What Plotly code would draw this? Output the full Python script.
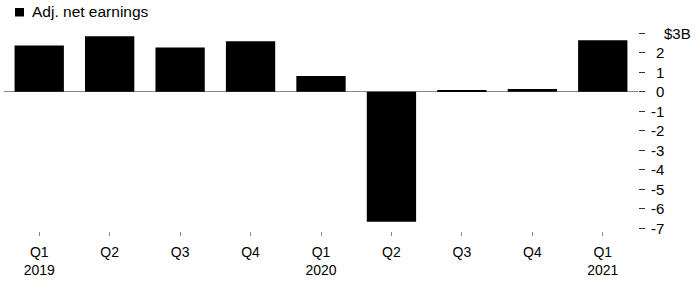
import plotly.graph_objects as go

# ---- data ----
QUARTERS = ["2019 Q1", "2019 Q2", "2019 Q3", "2019 Q4",
            "2020 Q1", "2020 Q2", "2020 Q3", "2020 Q4", "2021 Q1"]
TICK_LABELS = ["Q1<br>2019", "Q2", "Q3", "Q4", "Q1<br>2020",
               "Q2", "Q3", "Q4", "Q1<br>2021"]
ADJ_NET_EARNINGS = [2.36, 2.84, 2.26, 2.58, 0.80, -6.67, 0.08, 0.14, 2.64]
SERIES_NAME = "Adj. net earnings"
Y_TICKS = [-7, -6, -5, -4, -3, -2, -1, 0, 1, 2, 3]
Y_TICK_LABELS = ["-7", "-6", "-5", "-4", "-3", "-2", "-1", "0", "1", "2", "$3B"]

# ---- layout geometry ----
W, H = 700, 301
ML, MR, MT, MB = 4, 62, 30, 70
PW, PH = W - ML - MR, H - MT - MB
FONT = "Liberation Sans, Arial, Helvetica, sans-serif"


def px_x(px):
    return (px - ML) / PW


def px_y(py):
    return (H - MB - py) / PH


fig = go.Figure()
fig.add_trace(go.Bar(
    x=QUARTERS, y=ADJ_NET_EARNINGS, name=SERIES_NAME,
    marker=dict(color="#000000", line=dict(width=0)),
    showlegend=False,
))

annotations = []
for v, lab in zip(Y_TICKS, Y_TICK_LABELS):
    if lab.startswith("$"):
        annotations.append(dict(x=1, xref="paper", y=v, yref="y", text=lab,
                                showarrow=False, xanchor="left", xshift=24,
                                font=dict(size=15, color="#000", family=FONT)))
    else:
        annotations.append(dict(x=1, xref="paper", y=v, yref="y", text=lab,
                                showarrow=False, xanchor="right", xshift=28,
                                font=dict(size=15, color="#000", family=FONT)))

# legend (custom)
annotations.append(dict(x=px_x(30), xref="paper", y=px_y(12), yref="paper",
                        text=SERIES_NAME, showarrow=False, xanchor="left",
                        yanchor="middle",
                        font=dict(size=15.5, color="#000", family=FONT)))
shapes = [dict(type="rect", xref="paper", yref="paper",
               x0=px_x(15), x1=px_x(24), y0=px_y(16.5), y1=px_y(8),
               fillcolor="#000", line=dict(width=0))]

fig.update_layout(
    width=W, height=H,
    margin=dict(l=ML, r=MR, t=MT, b=MB, pad=0),
    paper_bgcolor="white", plot_bgcolor="white",
    bargap=0.3,
    showlegend=False,
    font=dict(family=FONT, size=14, color="#000"),
    annotations=annotations,
    shapes=shapes,
    xaxis=dict(
        type="category", tickvals=QUARTERS, ticktext=TICK_LABELS,
        range=[-0.5, 8.5], showgrid=False, zeroline=False, showline=False,
        ticks="outside", ticklen=4, tickwidth=1, tickcolor="#888",
        tickfont=dict(size=14, color="#000", family=FONT),
        ticklabelstandoff=4,
        fixedrange=True,
    ),
    yaxis=dict(
        side="right", range=[-7.14, 3.16], tickvals=Y_TICKS,
        showticklabels=False, showgrid=False, showline=False,
        zeroline=True, zerolinecolor="#888", zerolinewidth=1,
        ticks="outside", ticklen=6, tickwidth=1, tickcolor="#333",
        fixedrange=True,
    ),
)

fig.write_html("out.html")
